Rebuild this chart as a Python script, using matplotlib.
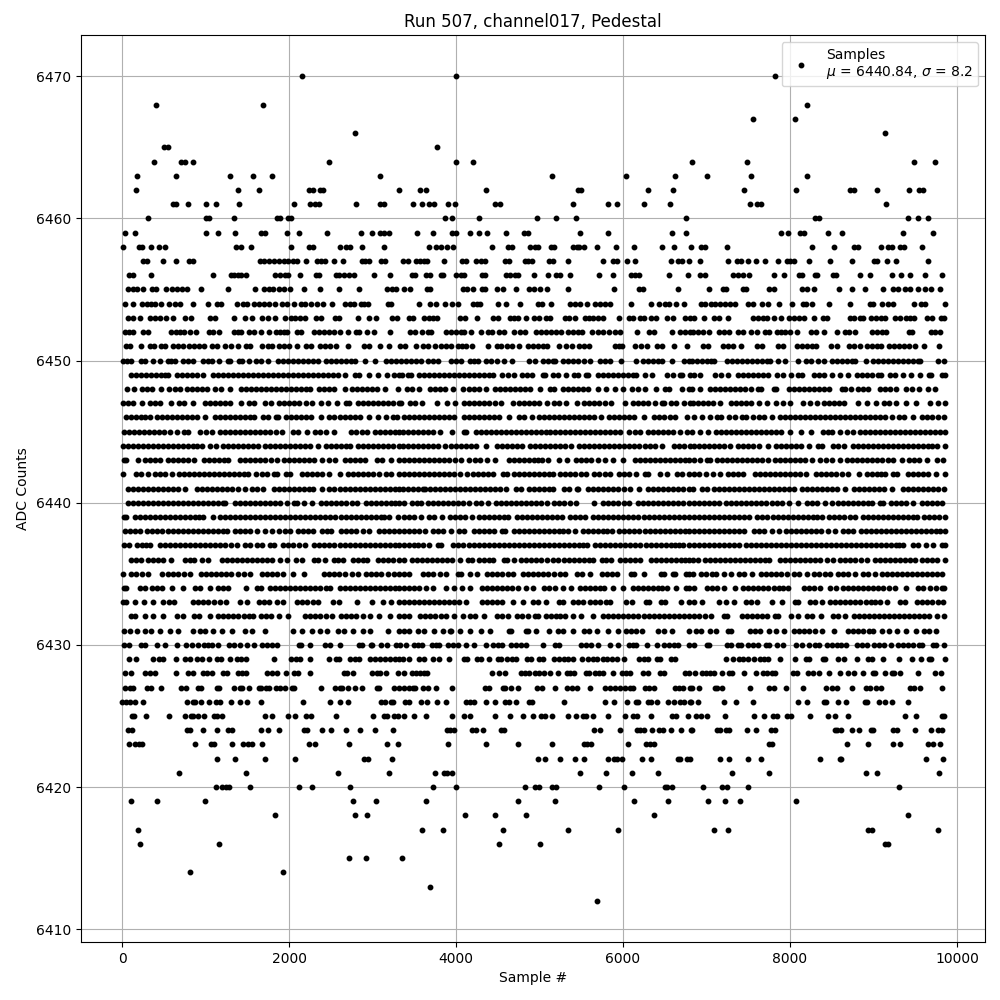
import matplotlib
matplotlib.use('Agg')
import matplotlib.pyplot as plt

# sample numbers, one list per ADC level
s6470 = [2152, 4005, 7814]
s6468 = [412, 1684, 8198]
s6467 = [7562, 8054]
s6466 = [2788, 9134]
s6465 = [508, 548, 3777]
s6464 = [388, 708, 756, 844, 2476, 4005, 4197, 6820, 7490, 9482, 9734]
s6463 = [184, 640, 1288, 1564, 1792, 3088, 5145, 6033, 6621, 7010, 7538, 8198]
s6462 = [172, 1384, 1636, 2236, 2284, 2368, 2412, 3316, 3573, 3645, 4353, 5461, 5501, 6297, 6597, 7454, 8066, 8714, 8762, 9038, 9422, 9542, 9594]
s6461 = [604, 644, 784, 1000, 1120, 1396, 2056, 2248, 2308, 2356, 2800, 3092, 3132, 3489, 3597, 3673, 3741, 3909, 3993, 4461, 4521, 5397, 5817, 5925, 6249, 6561, 7526, 7606, 7654, 9146]
s6460 = [316, 1000, 1036, 1336, 1856, 1896, 1988, 2020, 3873, 3957, 4269, 4965, 5193, 5433, 6753, 8294, 8342, 9410, 9530, 9650]
s6459 = [40, 160, 1000, 1144, 1348, 1660, 1708, 1972, 2116, 2452, 2860, 2992, 3088, 3132, 3200, 3537, 3729, 3957, 3997, 4161, 4269, 4365, 4593, 4809, 4857, 5481, 5817, 6585, 6753, 7886, 7970, 8114, 8166, 8450, 8618, 9350, 9710]
s6458 = [16, 208, 244, 352, 448, 520, 1360, 1420, 1540, 2020, 2236, 2284, 2608, 2680, 2724, 2872, 3136, 3681, 3765, 3825, 3897, 3969, 4425, 4617, 4665, 4881, 4941, 4977, 5133, 5169, 5397, 5445, 5469, 5529, 5685, 5913, 6129, 6465, 6609, 6813, 6938, 6986, 7250, 8258, 8522, 8762, 8810, 9086, 9170, 9218, 9314, 9362, 9578]
s6457 = [256, 304, 496, 640, 796, 844, 1648, 1696, 1756, 1816, 1876, 1936, 1984, 2044, 2092, 2200, 2332, 2380, 2428, 2536, 2644, 2872, 2908, 2956, 3100, 3148, 3369, 3429, 3525, 3573, 3621, 3657, 3861, 4077, 4125, 4233, 4293, 4341, 4581, 4629, 4821, 4857, 4905, 5109, 5157, 5337, 5757, 5877, 5925, 6045, 6141, 6573, 6657, 6705, 6789, 6926, 7262, 7370, 7418, 7502, 7598, 7706, 7850, 7958, 7994, 8042, 8222, 8474, 8738, 9002, 9038, 9158, 9266, 9650]
s6456 = [88, 136, 352, 1084, 1300, 1336, 1384, 1420, 1488, 1828, 1888, 1948, 1984, 2128, 2320, 2356, 2560, 2596, 2656, 2716, 2776, 3016, 3208, 3477, 3513, 3645, 3693, 3825, 3849, 4001, 4065, 4101, 4305, 4341, 4593, 4641, 4701, 4737, 4929, 5097, 5193, 5241, 5361, 5709, 5877, 6093, 6141, 6189, 6549, 6777, 6926, 6986, 7322, 7382, 7442, 7514, 7802, 7922, 8102, 8138, 8294, 8318, 8510, 8546, 8834, 8954, 9218, 9326, 9434, 9614, 9818]
s6455 = [76, 136, 184, 256, 364, 412, 532, 592, 652, 712, 772, 940, 1264, 1588, 1696, 1756, 1804, 1876, 1936, 2008, 2176, 2368, 2596, 2836, 3172, 3232, 3280, 3381, 3453, 3657, 3693, 4089, 4137, 4197, 4305, 4341, 4485, 4557, 4713, 4869, 4929, 5001, 5085, 5337, 5889, 6189, 6237, 6657, 7034, 7202, 7238, 7442, 7478, 7754, 7802, 8138, 8198, 8282, 8582, 8738, 8894, 9110, 9230, 9290, 9374, 9434, 9530, 9614, 9686, 9794]
s6454 = [40, 136, 244, 304, 352, 400, 472, 556, 628, 688, 844, 1024, 1132, 1180, 1372, 1444, 1492, 1576, 1636, 1696, 1756, 1828, 1912, 1972, 2056, 2140, 2188, 2260, 2332, 2404, 2512, 2668, 2728, 2776, 2860, 2896, 2944, 3184, 3220, 3561, 3693, 3765, 3873, 3957, 4029, 4197, 4245, 4281, 4497, 4593, 4761, 4977, 5025, 5133, 5361, 5421, 5481, 5565, 5661, 5721, 5781, 5841, 6093, 6333, 6429, 6501, 6549, 6633, 6729, 6938, 6986, 7058, 7106, 7166, 7226, 7286, 7346, 7502, 7562, 7670, 7742, 7870, 8018, 8150, 8186, 8258, 8462, 8714, 8954, 8990, 9098, 9170, 9230, 9482, 9566, 9614, 9850]
s6453 = [76, 136, 220, 340, 400, 460, 532, 604, 748, 820, 1048, 1108, 1336, 1468, 1552, 1672, 1744, 1828, 1948, 2020, 2068, 2128, 2188, 2320, 2380, 2548, 2596, 2824, 2956, 3040, 3232, 3292, 3441, 3489, 3621, 3681, 3729, 3777, 4053, 4113, 4245, 4437, 4497, 4641, 4689, 4737, 4841, 4929, 4989, 5073, 5121, 5301, 5349, 5421, 5541, 5589, 5637, 5697, 5757, 5949, 6069, 6117, 6201, 6249, 6333, 6393, 6525, 6597, 6741, 6801, 6854, 6974, 7094, 7154, 7262, 7562, 7622, 7682, 7730, 7802, 7886, 7982, 8042, 8102, 8162, 8282, 8390, 8438, 8714, 8762, 8834, 8870, 8966, 9026, 9086, 9134, 9254, 9314, 9386, 9434, 9482, 9638, 9698, 9806, 9842]
s6452 = [40, 88, 136, 256, 316, 580, 640, 688, 736, 808, 880, 1036, 1084, 1156, 1336, 1384, 1420, 1516, 1576, 1660, 1756, 1840, 1888, 1936, 1972, 2092, 2140, 2296, 2356, 2416, 2476, 2536, 2608, 2700, 2800, 2836, 2932, 3016, 3208, 3453, 3513, 3597, 3669, 3705, 3885, 3945, 4005, 4065, 4101, 4173, 4293, 4377, 4425, 4509, 4569, 4689, 4761, 4821, 4953, 5013, 5073, 5133, 5193, 5253, 5337, 5397, 5457, 5505, 5625, 5697, 5757, 5829, 5901, 5961, 6165, 6309, 6369, 6585, 6681, 6741, 6801, 6842, 6902, 6962, 7034, 7154, 7214, 7274, 7382, 7442, 7538, 7610, 7706, 7754, 7838, 7886, 7934, 7994, 8078, 8246, 8306, 8402, 8558, 8654, 8702, 8774, 8978, 9038, 9098, 9146, 9422, 9458, 9686, 9734, 9794]
s6451 = [52, 100, 232, 340, 388, 472, 520, 604, 664, 724, 796, 856, 916, 976, 1072, 1132, 1228, 1300, 1384, 1480, 1528, 1672, 1744, 1792, 1876, 1936, 1996, 2092, 2200, 2260, 2368, 2428, 2488, 2560, 2704, 2896, 2956, 3088, 3196, 3328, 3393, 3525, 3609, 3669, 3753, 3825, 3885, 3945, 4029, 4077, 4125, 4185, 4377, 4485, 4533, 4605, 4665, 4749, 4857, 4917, 4977, 5037, 5085, 5229, 5313, 5385, 5469, 5529, 5589, 5901, 5949, 5985, 6141, 6213, 6285, 6405, 6465, 6609, 6765, 6962, 7022, 7202, 7262, 7322, 7418, 7610, 7670, 7850, 7910, 8078, 8138, 8198, 8258, 8306, 8486, 8558, 8702, 8762, 8834, 8918, 8978, 9038, 9086, 9182, 9242, 9302, 9362, 9422, 9494, 9602, 9782]
s6450 = [16, 64, 112, 232, 272, 376, 460, 544, 590, 632, 724, 790, 852, 964, 1030, 1072, 1156, 1264, 1292, 1396, 1432, 1516, 1600, 1664, 1748, 1872, 1932, 1992, 2052, 2112, 2172, 2232, 2292, 2344, 2440, 2500, 2560, 2620, 2680, 2740, 2784, 2908, 3028, 3160, 3220, 3280, 3345, 3405, 3465, 3525, 3585, 3665, 3725, 3785, 3937, 4001, 4057, 4169, 4217, 4265, 4357, 4417, 4489, 4573, 4673, 4877, 4945, 5037, 5097, 5157, 5185, 5277, 5337, 5397, 5457, 5537, 5609, 5725, 5785, 5849, 5973, 6153, 6237, 6297, 6357, 6417, 6465, 6585, 6729, 6789, 6826, 6890, 6950, 7010, 7050, 7090, 7250, 7310, 7370, 7430, 7490, 7550, 7610, 7670, 7730, 7758, 7850, 7938, 8090, 8190, 8250, 8330, 8406, 8498, 8558, 8618, 8678, 8738, 8778, 8906, 8990, 9050, 9110, 9170, 9230, 9290, 9350, 9410, 9470, 9530, 9558, 9778, 9842]
s6449 = [104, 164, 224, 284, 344, 404, 464, 510, 552, 656, 716, 776, 836, 896, 972, 1092, 1150, 1212, 1270, 1330, 1392, 1450, 1512, 1570, 1632, 1690, 1752, 1810, 1870, 1932, 1990, 2052, 2110, 2172, 2230, 2292, 2350, 2412, 2470, 2532, 2590, 2672, 2784, 2840, 2952, 3060, 3168, 3256, 3316, 3350, 3425, 3465, 3557, 3617, 3677, 3737, 3797, 3857, 3917, 3977, 4037, 4097, 4157, 4217, 4277, 4337, 4397, 4445, 4545, 4625, 4693, 4785, 4850, 4913, 5037, 5065, 5165, 5225, 5317, 5417, 5465, 5557, 5585, 5697, 5757, 5817, 5877, 5937, 5997, 6057, 6117, 6161, 6261, 6349, 6525, 6597, 6677, 6705, 6797, 6850, 6918, 7098, 7178, 7262, 7378, 7438, 7498, 7558, 7618, 7678, 7738, 7838, 7918, 8006, 8090, 8138, 8290, 8350, 8410, 8498, 8602, 8698, 8798, 8858, 8918, 8978, 9050, 9090, 9202, 9262, 9350, 9446, 9554, 9662, 9690, 9818, 9850]
s6448 = [64, 144, 244, 304, 364, 464, 564, 630, 692, 776, 836, 896, 956, 1016, 1116, 1180, 1292, 1424, 1484, 1544, 1604, 1664, 1724, 1784, 1844, 1904, 1964, 2024, 2084, 2144, 2204, 2252, 2364, 2424, 2484, 2544, 2664, 2752, 2812, 2872, 2932, 2992, 3052, 3144, 3300, 3409, 3469, 3553, 3685, 3745, 3805, 3865, 3965, 4089, 4149, 4209, 4273, 4353, 4465, 4525, 4585, 4645, 4705, 4765, 4825, 4885, 5005, 5129, 5173, 5285, 5345, 5405, 5465, 5525, 5585, 5705, 5801, 5905, 6001, 6105, 6177, 6265, 6389, 6497, 6545, 6705, 6785, 6826, 6922, 7042, 7102, 7162, 7222, 7282, 7342, 7402, 7462, 7538, 7622, 7650, 7802, 7826, 7990, 8050, 8110, 8170, 8230, 8290, 8350, 8410, 8470, 8618, 8658, 8726, 8818, 8878, 8938, 9082, 9142, 9202, 9274, 9386, 9458, 9546, 9650, 9738]
s6447 = [8, 68, 128, 240, 336, 396, 456, 584, 684, 744, 852, 996, 1056, 1116, 1176, 1236, 1296, 1424, 1524, 1584, 1712, 1780, 1884, 1944, 2004, 2064, 2124, 2200, 2280, 2384, 2472, 2576, 2684, 2720, 2824, 2884, 2944, 3004, 3064, 3124, 3184, 3244, 3312, 3345, 3449, 3509, 3593, 3777, 3889, 3989, 4097, 4157, 4217, 4277, 4337, 4400, 4465, 4533, 4677, 4757, 4817, 4877, 4937, 4997, 5085, 5169, 5233, 5317, 5445, 5537, 5597, 5657, 5717, 5780, 5857, 6021, 6117, 6177, 6237, 6297, 6385, 6465, 6485, 6577, 6637, 6725, 6797, 6838, 6898, 6958, 7018, 7078, 7166, 7290, 7350, 7410, 7470, 7530, 7630, 7722, 7826, 7918, 8002, 8158, 8238, 8318, 8410, 8470, 8530, 8590, 8650, 8818, 8918, 9030, 9122, 9190, 9266, 9386, 9506, 9682, 9770, 9850]
s6446 = [44, 104, 164, 224, 280, 332, 416, 476, 536, 596, 656, 716, 776, 836, 896, 992, 1112, 1172, 1232, 1292, 1352, 1412, 1472, 1532, 1584, 1684, 1752, 1844, 1872, 1964, 2024, 2084, 2144, 2204, 2264, 2384, 2484, 2544, 2604, 2664, 2724, 2784, 2844, 2960, 3064, 3160, 3244, 3292, 3377, 3437, 3497, 3557, 3617, 3677, 3737, 3797, 3857, 3917, 3977, 4097, 4157, 4217, 4277, 4337, 4397, 4457, 4517, 4633, 4757, 4817, 4913, 4997, 5057, 5117, 5177, 5237, 5297, 5357, 5417, 5477, 5537, 5597, 5657, 5737, 5837, 5897, 5957, 6017, 6077, 6137, 6245, 6365, 6425, 6485, 6557, 6617, 6761, 6850, 6946, 7042, 7130, 7178, 7270, 7338, 7430, 7478, 7554, 7630, 7690, 7778, 7882, 7942, 8002, 8062, 8122, 8182, 8242, 8302, 8362, 8422, 8482, 8542, 8602, 8662, 8722, 8782, 8842, 8902, 8962, 9022, 9082, 9142, 9218, 9310, 9370, 9478, 9582, 9642, 9702, 9770, 9838]
s6445 = [24, 84, 144, 204, 264, 324, 384, 444, 504, 570, 652, 744, 792, 936, 1000, 1072, 1176, 1236, 1296, 1356, 1416, 1476, 1536, 1596, 1656, 1716, 1776, 1840, 1912, 2044, 2110, 2220, 2316, 2376, 2440, 2544, 2744, 2800, 2870, 2936, 3032, 3092, 3152, 3212, 3272, 3312, 3361, 3421, 3481, 3541, 3601, 3661, 3721, 3813, 3957, 4097, 4125, 4237, 4297, 4357, 4417, 4477, 4537, 4597, 4657, 4717, 4777, 4837, 4897, 4957, 5017, 5077, 5125, 5185, 5245, 5305, 5365, 5425, 5485, 5545, 5605, 5665, 5725, 5785, 5845, 5905, 5965, 6077, 6145, 6205, 6297, 6357, 6417, 6477, 6537, 6597, 6685, 6769, 6826, 6926, 7018, 7114, 7174, 7234, 7294, 7354, 7414, 7474, 7534, 7594, 7654, 7714, 7774, 7834, 7894, 7998, 8130, 8246, 8390, 8450, 8498, 8598, 8678, 8754, 8838, 8898, 8958, 9018, 9078, 9138, 9198, 9258, 9318, 9378, 9438, 9498, 9558, 9618, 9678, 9738, 9800, 9850]
s6444 = [8, 68, 128, 188, 248, 308, 368, 428, 488, 548, 608, 668, 728, 788, 848, 900, 960, 1056, 1120, 1208, 1268, 1328, 1388, 1448, 1508, 1568, 1624, 1716, 1776, 1836, 1896, 1956, 2016, 2076, 2136, 2196, 2256, 2344, 2440, 2500, 2560, 2620, 2680, 2732, 2824, 2884, 2944, 3004, 3064, 3124, 3184, 3244, 3312, 3361, 3421, 3481, 3541, 3601, 3661, 3721, 3781, 3869, 3937, 3997, 4057, 4117, 4177, 4237, 4353, 4489, 4549, 4609, 4669, 4730, 4785, 4881, 4941, 5001, 5061, 5121, 5181, 5241, 5301, 5377, 5477, 5537, 5597, 5657, 5717, 5777, 5837, 5897, 5957, 6017, 6077, 6137, 6197, 6257, 6317, 6377, 6465, 6609, 6665, 6725, 6801, 6850, 6910, 6970, 7030, 7090, 7150, 7214, 7278, 7378, 7438, 7498, 7558, 7626, 7742, 7830, 7890, 7950, 8010, 8070, 8130, 8226, 8330, 8378, 8510, 8570, 8646, 8750, 8810, 8870, 8930, 8990, 9050, 9110, 9170, 9230, 9290, 9350, 9410, 9470, 9530, 9590, 9650, 9700, 9758, 9850]
s6443 = [24, 52, 188, 272, 332, 390, 452, 544, 604, 664, 724, 790, 864, 976, 1036, 1096, 1156, 1216, 1272, 1408, 1468, 1528, 1588, 1648, 1708, 1780, 1852, 1944, 2004, 2064, 2124, 2184, 2244, 2304, 2392, 2484, 2556, 2672, 2732, 2792, 2850, 2912, 3052, 3112, 3224, 3312, 3377, 3437, 3497, 3557, 3617, 3677, 3737, 3797, 3857, 3917, 3993, 4065, 4153, 4225, 4285, 4365, 4461, 4637, 4697, 4757, 4817, 4877, 4937, 4985, 5025, 5105, 5229, 5329, 5441, 5501, 5561, 5621, 5705, 5789, 5885, 5997, 6145, 6205, 6265, 6325, 6385, 6445, 6505, 6565, 6625, 6685, 6740, 6785, 6850, 6922, 7010, 7042, 7122, 7182, 7242, 7302, 7362, 7422, 7482, 7542, 7602, 7662, 7738, 7822, 7882, 7942, 8002, 8062, 8122, 8182, 8258, 8358, 8426, 8498, 8598, 8682, 8742, 8802, 8862, 8922, 8982, 9040, 9098, 9178, 9238, 9338, 9430, 9490, 9550, 9638, 9758, 9826]
s6442 = [16, 168, 232, 308, 392, 452, 512, 592, 684, 744, 804, 864, 924, 984, 1044, 1104, 1164, 1224, 1284, 1344, 1404, 1460, 1512, 1604, 1672, 1736, 1816, 1852, 1964, 2016, 2156, 2216, 2276, 2336, 2400, 2480, 2604, 2704, 2764, 2824, 2884, 2944, 3004, 3080, 3164, 3224, 3312, 3377, 3437, 3497, 3557, 3617, 3677, 3737, 3797, 3857, 3917, 3977, 4045, 4137, 4197, 4257, 4317, 4377, 4445, 4557, 4605, 4689, 4749, 4809, 4869, 4929, 4989, 5049, 5109, 5165, 5249, 5309, 5369, 5429, 5493, 5553, 5657, 5717, 5780, 5845, 5949, 6009, 6069, 6153, 6257, 6297, 6437, 6525, 6641, 6701, 6785, 6850, 6910, 6998, 7082, 7166, 7258, 7318, 7380, 7438, 7582, 7642, 7702, 7762, 7822, 7882, 7942, 8002, 8062, 8122, 8186, 8314, 8374, 8434, 8494, 8554, 8626, 8698, 8830, 8918, 8978, 9038, 9090, 9138, 9234, 9286, 9418, 9478, 9538, 9598, 9658, 9746, 9850]
s6441 = [72, 132, 192, 252, 312, 372, 432, 492, 552, 612, 672, 752, 896, 956, 1016, 1076, 1136, 1196, 1256, 1320, 1384, 1468, 1552, 1612, 1692, 1816, 1876, 1936, 1996, 2056, 2116, 2176, 2236, 2292, 2396, 2484, 2544, 2604, 2664, 2724, 2784, 2844, 2904, 2964, 3024, 3084, 3144, 3204, 3264, 3312, 3361, 3421, 3481, 3541, 3601, 3625, 3689, 3749, 3809, 3869, 3929, 3989, 4049, 4109, 4169, 4229, 4289, 4349, 4409, 4469, 4530, 4593, 4717, 4777, 4877, 4937, 4997, 5057, 5110, 5165, 5289, 5353, 5445, 5465, 5577, 5637, 5697, 5757, 5817, 5877, 5937, 6010, 6085, 6189, 6297, 6357, 6417, 6477, 6537, 6597, 6657, 6717, 6785, 6838, 6950, 7002, 7090, 7150, 7210, 7270, 7330, 7390, 7450, 7510, 7570, 7630, 7690, 7750, 7810, 7870, 7930, 7990, 8050, 8138, 8198, 8258, 8318, 8378, 8438, 8498, 8558, 8658, 8770, 8830, 8890, 8950, 9010, 9070, 9130, 9218, 9350, 9410, 9470, 9530, 9590, 9650, 9710, 9770, 9838]
s6440 = [72, 132, 192, 252, 312, 372, 432, 492, 552, 612, 672, 732, 792, 852, 912, 972, 1032, 1092, 1152, 1212, 1232, 1352, 1412, 1472, 1532, 1592, 1652, 1712, 1772, 1830, 1892, 1976, 2056, 2092, 2176, 2272, 2384, 2444, 2504, 2564, 2624, 2684, 2750, 2812, 2924, 2984, 3044, 3104, 3164, 3224, 3270, 3312, 3377, 3477, 3530, 3585, 3665, 3725, 3785, 3845, 3905, 3965, 4025, 4085, 4153, 4237, 4297, 4385, 4477, 4537, 4597, 4657, 4717, 4777, 4837, 4897, 4957, 5017, 5085, 5177, 5237, 5297, 5370, 5437, 5657, 5765, 5825, 5885, 5945, 6010, 6077, 6177, 6237, 6297, 6357, 6417, 6477, 6537, 6597, 6657, 6717, 6785, 6850, 6910, 6970, 7030, 7090, 7146, 7238, 7298, 7358, 7418, 7478, 7538, 7598, 7658, 7718, 7778, 7840, 7906, 7990, 8098, 8198, 8258, 8318, 8422, 8498, 8578, 8638, 8698, 8758, 8818, 8878, 8930, 8986, 9074, 9118, 9210, 9270, 9330, 9390, 9478, 9578, 9638, 9698, 9758, 9818]
s6439 = [24, 52, 152, 212, 272, 332, 392, 452, 512, 572, 632, 692, 752, 812, 872, 920, 972, 1088, 1176, 1236, 1296, 1356, 1416, 1476, 1536, 1596, 1656, 1716, 1776, 1836, 1896, 1956, 2016, 2076, 2136, 2196, 2256, 2316, 2376, 2436, 2496, 2556, 2616, 2676, 2736, 2796, 2856, 2916, 2976, 3036, 3096, 3140, 3192, 3304, 3377, 3437, 3497, 3577, 3677, 3733, 3833, 3929, 3989, 4049, 4109, 4185, 4277, 4337, 4397, 4457, 4517, 4570, 4625, 4729, 4789, 4849, 4909, 4969, 5029, 5089, 5149, 5210, 5265, 5365, 5425, 5490, 5545, 5645, 5705, 5765, 5825, 5885, 5945, 6005, 6065, 6125, 6185, 6245, 6305, 6365, 6425, 6485, 6545, 6605, 6665, 6725, 6785, 6850, 6910, 6970, 7030, 7090, 7150, 7210, 7270, 7330, 7390, 7450, 7510, 7610, 7670, 7730, 7790, 7850, 7910, 7970, 8030, 8090, 8150, 8210, 8270, 8320, 8378, 8470, 8530, 8590, 8650, 8714, 8778, 8878, 8938, 8998, 9058, 9118, 9178, 9238, 9298, 9358, 9418, 9470, 9518, 9610, 9670, 9730, 9790, 9850]
s6438 = [32, 92, 152, 220, 304, 364, 424, 484, 544, 604, 664, 724, 784, 844, 904, 964, 1024, 1084, 1144, 1204, 1252, 1352, 1412, 1472, 1532, 1616, 1712, 1792, 1884, 1950, 2012, 2112, 2172, 2232, 2292, 2392, 2450, 2504, 2616, 2676, 2736, 2796, 2880, 2960, 3072, 3132, 3192, 3252, 3312, 3377, 3437, 3497, 3560, 3625, 3729, 3789, 3849, 3945, 4037, 4093, 4209, 4269, 4329, 4390, 4453, 4545, 4585, 4689, 4749, 4809, 4869, 4929, 4989, 5049, 5109, 5169, 5229, 5285, 5345, 5421, 5517, 5577, 5637, 5697, 5757, 5810, 5865, 5957, 6017, 6077, 6137, 6197, 6257, 6317, 6377, 6437, 6497, 6557, 6617, 6677, 6737, 6785, 6850, 6910, 6970, 7030, 7090, 7150, 7210, 7270, 7330, 7390, 7450, 7570, 7630, 7690, 7778, 7862, 7954, 8014, 8074, 8134, 8194, 8254, 8314, 8374, 8454, 8538, 8630, 8694, 8758, 8850, 8910, 8970, 9030, 9090, 9150, 9210, 9270, 9330, 9390, 9450, 9510, 9570, 9630, 9690, 9750, 9800, 9850]
s6437 = [24, 80, 184, 244, 290, 332, 456, 516, 576, 636, 696, 756, 816, 876, 936, 996, 1056, 1116, 1176, 1236, 1300, 1372, 1476, 1536, 1610, 1680, 1776, 1824, 1924, 1984, 2044, 2120, 2192, 2304, 2364, 2424, 2484, 2544, 2604, 2664, 2724, 2784, 2844, 2904, 2964, 3024, 3084, 3144, 3204, 3264, 3312, 3377, 3437, 3497, 3550, 3605, 3681, 3785, 3825, 3969, 4029, 4089, 4149, 4209, 4269, 4329, 4389, 4449, 4509, 4569, 4629, 4689, 4749, 4809, 4869, 4929, 4989, 5049, 5109, 5169, 5229, 5289, 5349, 5409, 5469, 5525, 5573, 5669, 5729, 5789, 5849, 5909, 5969, 6029, 6089, 6149, 6209, 6269, 6329, 6389, 6449, 6509, 6569, 6617, 6665, 6721, 6785, 6850, 6910, 6970, 7030, 7090, 7150, 7210, 7270, 7330, 7390, 7474, 7534, 7594, 7654, 7714, 7774, 7834, 7894, 7954, 8014, 8074, 8134, 8194, 8254, 8314, 8374, 8434, 8494, 8554, 8614, 8674, 8734, 8794, 8854, 8914, 8974, 9034, 9094, 9154, 9214, 9274, 9310, 9358, 9478, 9538, 9630, 9710, 9818, 9850]
s6436 = [104, 168, 232, 312, 372, 432, 488, 588, 752, 808, 864, 952, 1032, 1192, 1252, 1312, 1372, 1432, 1492, 1552, 1612, 1672, 1732, 1792, 1892, 1972, 2084, 2152, 2304, 2344, 2428, 2536, 2590, 2640, 2764, 2824, 2880, 2932, 3064, 3124, 3184, 3244, 3312, 3377, 3477, 3537, 3597, 3657, 3717, 3777, 3837, 3897, 3957, 4045, 4145, 4193, 4277, 4337, 4390, 4445, 4577, 4605, 4689, 4777, 4837, 4897, 4957, 5017, 5090, 5165, 5221, 5297, 5357, 5417, 5477, 5537, 5590, 5645, 5745, 5800, 5857, 5969, 6029, 6089, 6145, 6205, 6329, 6389, 6449, 6509, 6569, 6629, 6689, 6740, 6785, 6838, 6900, 6978, 7038, 7098, 7160, 7226, 7278, 7338, 7398, 7458, 7518, 7578, 7638, 7700, 7750, 7882, 7942, 8002, 8062, 8122, 8182, 8242, 8302, 8362, 8440, 8518, 8602, 8662, 8722, 8782, 8850, 8918, 9018, 9078, 9138, 9198, 9258, 9318, 9378, 9438, 9498, 9578, 9638, 9698, 9758, 9850]
s6435 = [16, 104, 164, 240, 312, 484, 544, 604, 672, 740, 812, 944, 1004, 1064, 1124, 1184, 1244, 1304, 1390, 1460, 1532, 1676, 1736, 1796, 1860, 1932, 2044, 2176, 2416, 2476, 2536, 2596, 2670, 2752, 2828, 2924, 2984, 3044, 3104, 3180, 3252, 3316, 3377, 3433, 3609, 3669, 3729, 3805, 3885, 4025, 4065, 4169, 4245, 4369, 4429, 4489, 4549, 4620, 4685, 4805, 4865, 4925, 4985, 5045, 5105, 5170, 5240, 5305, 5449, 5505, 5609, 5749, 5809, 5870, 5925, 6097, 6137, 6249, 6449, 6485, 6597, 6625, 6757, 6785, 6838, 6938, 6998, 7060, 7118, 7210, 7298, 7390, 7450, 7546, 7650, 7710, 7770, 7830, 7890, 7960, 8050, 8102, 8202, 8290, 8350, 8418, 8474, 8570, 8630, 8690, 8778, 8870, 8930, 9018, 9102, 9162, 9222, 9282, 9342, 9402, 9462, 9522, 9582, 9642, 9702, 9760, 9818]
s6434 = [24, 52, 216, 272, 364, 424, 484, 592, 728, 876, 936, 1052, 1152, 1212, 1272, 1480, 1612, 1660, 1776, 1836, 1896, 1956, 2016, 2076, 2136, 2196, 2256, 2316, 2376, 2440, 2492, 2604, 2664, 2724, 2784, 2844, 2904, 2964, 3024, 3084, 3144, 3204, 3264, 3312, 3377, 3437, 3497, 3557, 3640, 3725, 3881, 3977, 4073, 4169, 4309, 4369, 4429, 4489, 4549, 4609, 4670, 4737, 4837, 4925, 5049, 5109, 5185, 5281, 5377, 5489, 5549, 5609, 5669, 5720, 5777, 5881, 6001, 6117, 6177, 6237, 6297, 6357, 6417, 6470, 6525, 6637, 6753, 6789, 6850, 7002, 7062, 7130, 7210, 7346, 7442, 7502, 7562, 7622, 7682, 7742, 7802, 7862, 7920, 7978, 8162, 8222, 8282, 8358, 8474, 8546, 8630, 8690, 8750, 8810, 8870, 8930, 8990, 9050, 9110, 9180, 9258, 9394, 9538, 9598, 9674, 9746, 9818, 9838]
s6433 = [16, 52, 156, 264, 372, 496, 560, 624, 844, 904, 964, 1024, 1100, 1170, 1240, 1416, 1492, 1644, 1704, 1764, 1850, 1932, 2096, 2156, 2216, 2290, 2352, 2524, 2600, 2816, 2992, 3128, 3224, 3312, 3377, 3437, 3497, 3557, 3617, 3677, 3737, 3797, 3857, 3917, 3977, 4037, 4125, 4305, 4365, 4425, 4490, 4553, 4677, 4797, 4917, 4977, 5073, 5237, 5285, 5397, 5457, 5517, 5609, 5669, 5729, 5790, 5845, 6037, 6105, 6277, 6313, 6449, 6505, 6697, 6785, 6850, 6946, 7150, 7238, 7330, 7470, 7530, 7606, 7778, 7898, 8054, 8094, 8238, 8298, 8378, 8482, 8542, 8602, 8662, 8722, 8782, 8842, 8910, 8970, 9018, 9074, 9166, 9322, 9378, 9522, 9582, 9642, 9702, 9770, 9826]
s6432 = [112, 152, 272, 372, 496, 656, 732, 864, 924, 1052, 1152, 1212, 1272, 1332, 1392, 1460, 1520, 1572, 1664, 1724, 1784, 1880, 1992, 2192, 2252, 2312, 2372, 2440, 2512, 2624, 2684, 2744, 2804, 2890, 2972, 3080, 3204, 3312, 3377, 3433, 3569, 3629, 3689, 3749, 3815, 3885, 3977, 4085, 4169, 4229, 4337, 4489, 4549, 4625, 4729, 4790, 4857, 4945, 4985, 5077, 5137, 5197, 5250, 5305, 5397, 5497, 5645, 5765, 5825, 5885, 5945, 6005, 6065, 6125, 6185, 6245, 6305, 6365, 6425, 6485, 6545, 6605, 6665, 6725, 6785, 6850, 6910, 6980, 7050, 7210, 7250, 7422, 7482, 7542, 7602, 7665, 7730, 7822, 7850, 8010, 8090, 8202, 8262, 8366, 8514, 8574, 8658, 8770, 8830, 8890, 8950, 9010, 9070, 9130, 9190, 9250, 9310, 9370, 9430, 9490, 9550, 9610, 9670, 9758, 9842]
s6431 = [24, 100, 184, 276, 352, 452, 568, 672, 844, 936, 996, 1092, 1196, 1312, 1472, 1552, 1708, 2052, 2160, 2280, 2372, 2460, 2584, 2656, 2760, 2884, 2972, 3184, 3312, 3377, 3437, 3545, 3621, 3737, 3845, 3929, 3945, 4053, 4169, 4297, 4401, 4637, 4657, 4841, 4857, 4953, 5117, 5217, 5277, 5405, 5529, 5589, 5685, 5825, 5945, 6037, 6097, 6157, 6225, 6417, 6485, 6581, 6785, 6870, 6938, 7042, 7114, 7262, 7290, 7522, 7582, 7642, 7750, 7826, 7926, 8042, 8102, 8162, 8222, 8300, 8378, 8530, 8690, 8750, 8810, 8870, 8940, 8998, 9102, 9182, 9282, 9394, 9514, 9602, 9662, 9750]
s6430 = [24, 80, 224, 280, 424, 520, 652, 760, 832, 904, 984, 1028, 1072, 1148, 1276, 1340, 1412, 1492, 1576, 1672, 1732, 1796, 1856, 2124, 2144, 2256, 2428, 2488, 2604, 2836, 2872, 2976, 2992, 3104, 3172, 3284, 3328, 3401, 3493, 3549, 3589, 3709, 3765, 3801, 3905, 3969, 4029, 4125, 4209, 4361, 4441, 4501, 4549, 4653, 4713, 4773, 4833, 5037, 5181, 5229, 5493, 5553, 5613, 5697, 5849, 5941, 6069, 6117, 6153, 6281, 6405, 6489, 6549, 6609, 6657, 6789, 6854, 7006, 7034, 7246, 7294, 7374, 7414, 7494, 7554, 7622, 7718, 7754, 7838, 7914, 8066, 8138, 8222, 8294, 8342, 8438, 8498, 8558, 8606, 8666, 8802, 8862, 8922, 9002, 9062, 9122, 9206, 9290, 9350, 9410, 9470, 9542, 9578, 9710, 9746, 9842]
s6429 = [88, 168, 376, 448, 496, 648, 748, 816, 892, 952, 1036, 1132, 1180, 1288, 1372, 1420, 1480, 1816, 2020, 2080, 2128, 2256, 2476, 2560, 2596, 2728, 2788, 2836, 2968, 3028, 3088, 3148, 3208, 3268, 3316, 3361, 3441, 3561, 3613, 3729, 3801, 3921, 4101, 4133, 4245, 4293, 4389, 4497, 4541, 4605, 4665, 4713, 4845, 4893, 4989, 5037, 5169, 5229, 5289, 5337, 5397, 5505, 5577, 5637, 5685, 5757, 5805, 5865, 5925, 6009, 6189, 6249, 6297, 6405, 6441, 6573, 6621, 7238, 7322, 7394, 7442, 7502, 7574, 7646, 7694, 7742, 7874, 8054, 8186, 8222, 8390, 8414, 8570, 8642, 8802, 8930, 8978, 9110, 9302, 9458, 9566, 9662, 9686, 9850]
s6428 = [40, 112, 280, 340, 400, 640, 784, 844, 964, 1012, 1072, 1204, 1252, 1384, 1432, 1480, 1732, 1792, 1852, 1960, 2060, 2108, 2248, 2656, 2692, 2764, 2992, 3052, 3088, 3160, 3304, 3381, 3477, 3525, 3573, 3621, 3657, 4425, 4509, 4581, 4773, 4821, 4869, 4941, 4989, 5049, 5121, 5217, 5325, 5361, 5409, 5553, 5589, 5661, 5709, 5757, 5877, 5985, 6033, 6081, 6237, 6297, 6441, 6489, 6741, 6789, 6866, 6950, 6998, 7046, 7094, 7190, 7274, 7310, 7454, 7598, 7682, 7730, 7778, 7814, 8030, 8078, 8210, 8270, 8342, 8462, 8594, 8694, 8762, 8870, 8990, 9014, 9134, 9218, 9242, 9314, 9530, 9734, 9806]
s6427 = [40, 100, 136, 304, 352, 468, 700, 760, 904, 940, 1132, 1156, 1336, 1408, 1432, 1516, 1636, 1660, 1720, 1756, 1840, 1888, 1948, 2032, 2056, 2380, 2548, 2608, 2632, 2704, 2788, 2872, 3052, 3076, 3256, 3316, 3381, 3441, 3489, 3513, 3609, 3669, 3765, 3957, 4341, 4389, 4557, 4581, 4653, 4737, 4965, 5025, 5181, 5325, 5385, 5445, 5601, 5781, 5841, 5901, 5961, 6021, 6081, 6117, 6261, 6309, 6369, 6621, 6669, 6717, 6801, 6826, 6914, 7106, 7130, 7190, 7526, 7754, 7802, 7946, 8150, 8426, 8498, 8558, 8738, 8906, 8954, 9026, 9086, 9434, 9482, 9554, 9818]
s6426 = [4, 52, 100, 160, 256, 772, 844, 868, 940, 1036, 1120, 1168, 1300, 1408, 1492, 1660, 2164, 2488, 2608, 2704, 3100, 3148, 3220, 3244, 3393, 3441, 3585, 3657, 3777, 3885, 4125, 4161, 4209, 4353, 4461, 4581, 4629, 4713, 4869, 4905, 5289, 5781, 5889, 6045, 6153, 6177, 6297, 6333, 6405, 6537, 6609, 6681, 6729, 6801, 6814, 6902, 7214, 7358, 7562, 8090, 8198, 8402, 8426, 8570, 8666, 8894, 8918, 9062, 9134, 9218, 9410]
s6425 = [124, 148, 292, 556, 748, 820, 844, 904, 976, 1096, 1132, 1192, 1708, 1792, 1984, 2068, 2200, 2260, 2560, 3004, 3136, 3172, 3256, 3304, 3381, 3501, 3645, 3957, 4101, 4161, 4461, 4641, 4797, 4917, 5013, 5061, 5145, 5337, 5433, 5517, 5553, 5637, 5817, 6021, 6117, 6165, 6333, 6585, 6633, 6777, 6878, 6938, 7010, 7226, 7574, 7694, 7790, 7838, 7958, 8006, 8234, 8450, 8534, 8690, 9374, 9506, 9818, 9842]
s6424 = [76, 124, 772, 808, 964, 1132, 1264, 1312, 1660, 1744, 1876, 2176, 2212, 2392, 2500, 2680, 2848, 3028, 3244, 3897, 3933, 3981, 4185, 4233, 4317, 4533, 4569, 5649, 5721, 5961, 6165, 6201, 6249, 6345, 6429, 6477, 6573, 6693, 6813, 6826, 7130, 7166, 7238, 7274, 7490, 7598, 7766, 7814, 8534, 8558, 8606, 8738, 8822, 8966, 8990, 9230, 9278, 9494, 9686, 9770, 9818]
s6423 = [88, 160, 208, 244, 868, 1060, 1096, 1312, 1444, 1504, 1552, 1672, 2236, 2308, 2716, 3172, 3304, 3909, 4353, 4737, 5145, 5529, 5565, 5613, 6057, 6273, 6321, 6369, 7754, 7778, 8678, 8930, 9230, 9314, 9650, 9710, 9794]
s6422 = [1132, 1348, 1708, 2068, 2896, 2944, 3232, 4977, 5061, 5241, 5421, 5529, 5817, 5889, 5925, 5985, 6225, 6333, 6657, 6681, 6765, 6801, 7166, 7274, 7502, 7658, 8354, 8594, 8610, 9626, 9830]
s6421 = [676, 1480, 2584, 3196, 3753, 3861, 3897, 3957, 5481, 5793, 6105, 6417, 7310, 7754, 8906, 9038, 9782]
s6420 = [1120, 1192, 1240, 1276, 1528, 2116, 2272, 2728, 3729, 4005, 4821, 4941, 4989, 5145, 5193, 5709, 6009, 6501, 6525, 6585, 6962, 7190, 7250, 7502, 9302]
s6419 = [112, 424, 988, 2764, 3040, 3645, 4737, 5181, 6129, 6537, 7022, 7226, 7406, 8066]
s6418 = [1828, 2788, 2932, 4113, 4461, 4833, 6369, 9410]
s6417 = [196, 3597, 3849, 4557, 5337, 5937, 7094, 7262, 8930, 8978, 9770]
s6416 = [220, 1156, 4509, 5001, 9134, 9170]
s6415 = [2716, 2920, 3350]
s6414 = [808, 1924]
s6413 = [3693]
s6412 = [5685]

levels = [6470, 6468, 6467, 6466, 6465, 6464, 6463, 6462, 6461, 6460, 6459, 6458, 6457, 6456,
          6455, 6454, 6453, 6452, 6451, 6450, 6449, 6448, 6447, 6446, 6445, 6444, 6443, 6442,
          6441, 6440, 6439, 6438, 6437, 6436, 6435, 6434, 6433, 6432, 6431, 6430, 6429, 6428,
          6427, 6426, 6425, 6424, 6423, 6422, 6421, 6420, 6419, 6418, 6417, 6416, 6415, 6414,
          6413, 6412]
samples = [s6470, s6468, s6467, s6466, s6465, s6464, s6463, s6462, s6461, s6460, s6459, s6458, s6457, s6456,
           s6455, s6454, s6453, s6452, s6451, s6450, s6449, s6448, s6447, s6446, s6445, s6444, s6443, s6442,
           s6441, s6440, s6439, s6438, s6437, s6436, s6435, s6434, s6433, s6432, s6431, s6430, s6429, s6428,
           s6427, s6426, s6425, s6424, s6423, s6422, s6421, s6420, s6419, s6418, s6417, s6416, s6415, s6414,
           s6413, s6412]

x = []
y = []
for level, row in zip(levels, samples):
    x.extend(row)
    y.extend([level] * len(row))

fig, ax = plt.subplots(figsize=(10, 10))
ax.plot(x, y, 'k.', ms=6.4, label='Samples\n$\\mu$ = 6440.84, $\\sigma$ = 8.2')
ax.set_xlim(-492, 10335)
ax.set_ylim(6409.1, 6472.9)
ax.set_title('Run 507, channel017, Pedestal')
ax.set_xlabel('Sample #')
ax.set_ylabel('ADC Counts')
ax.grid(True)
ax.legend(loc='upper right')
fig.subplots_adjust(left=0.081, right=0.985, top=0.965, bottom=0.058)
plt.savefig('out.png', dpi=100)
